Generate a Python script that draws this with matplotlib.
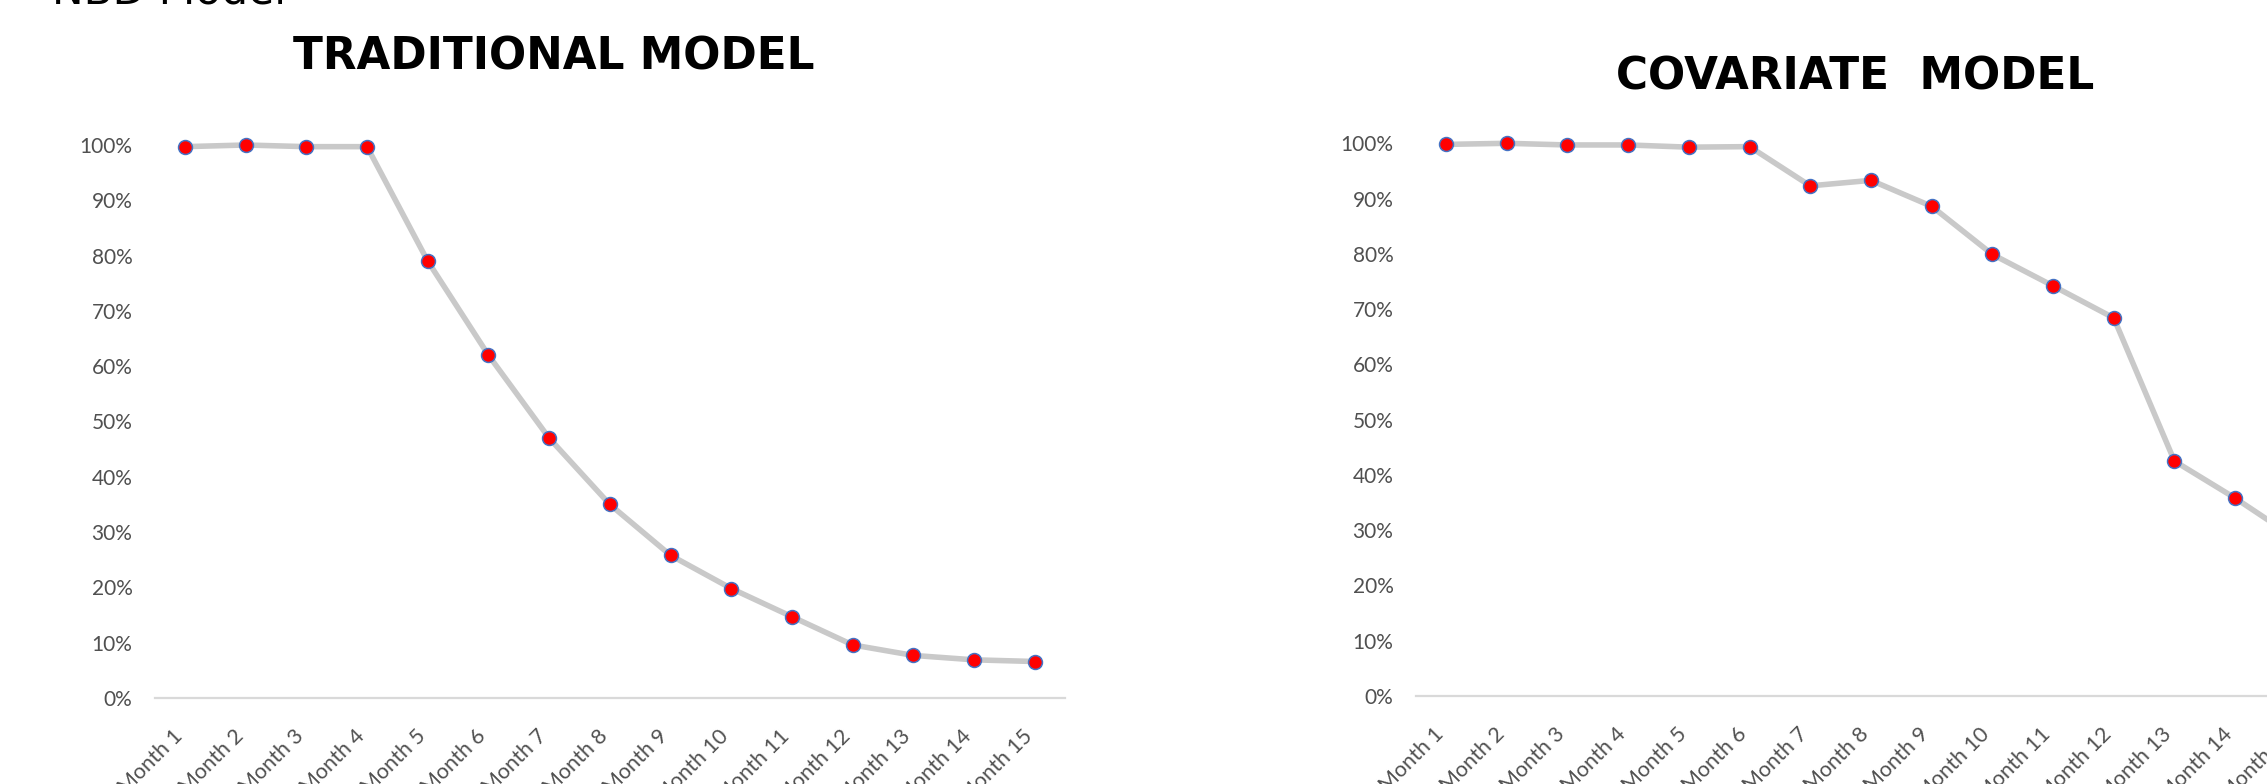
import matplotlib
matplotlib.use("Agg")
import matplotlib.pyplot as plt
from matplotlib.ticker import PercentFormatter
from matplotlib.transforms import ScaledTranslation

# ---- data ----
months = ["Month 1", "Month 2", "Month 3", "Month 4", "Month 5", "Month 6",
          "Month 7", "Month 8", "Month 9", "Month 10", "Month 11", "Month 12",
          "Month 13", "Month 14", "Month 15"]
traditional = [0.997, 1.000, 0.997, 0.997, 0.790, 0.620, 0.470, 0.350,
               0.258, 0.198, 0.147, 0.096, 0.077, 0.069, 0.066]
covariate = [0.998, 1.000, 0.997, 0.997, 0.993, 0.994, 0.923, 0.933,
             0.886, 0.799, 0.742, 0.684, 0.425, 0.358, 0.285]
yticks = [0.0, 0.1, 0.2, 0.3, 0.4, 0.5, 0.6, 0.7, 0.8, 0.9, 1.0]
titles = ["TRADITIONAL MODEL", "COVARIATE  MODEL"]
header = "NBD Model"

W, H = 2267, 784
DPI = 100
fig = plt.figure(figsize=(W / DPI, H / DPI), dpi=DPI, facecolor="white")

tick_font = ["Lato", "DejaVu Sans"]
tick_color = "#505050"
title_kw = dict(family="DejaVu Sans", weight="bold", fontsize=31.5)


def px_axes(x0, y_top, width, y_bottom):
    return [x0 / W, (H - y_bottom) / H, width / W, (y_bottom - y_top) / H]


axes_specs = [
    (px_axes(154.6, 145, 910.5, 698), traditional, titles[0], (554, 70)),
    (px_axes(1415.7, 143.3, 910.5, 696), covariate, titles[1], (1855, 90)),
]

for rect, vals, title, (tx, ty) in axes_specs:
    ax = fig.add_axes(rect)
    x = list(range(len(months)))
    ax.plot(x, vals, color="#c9c9c9", linewidth=4.0, solid_capstyle="round",
            marker="o", markersize=10, markerfacecolor="#ff0000",
            markeredgecolor="#4472c4", markeredgewidth=1.1, zorder=3,
            clip_on=False)
    ax.set_xlim(-0.5, len(months) - 0.5)
    ax.set_ylim(0, 1)
    ax.set_yticks(yticks)
    ax.yaxis.set_major_formatter(PercentFormatter(1.0, decimals=0))
    ax.set_xticks(x)
    ax.set_xticklabels(months, rotation=45, ha="right", va="center",
                       rotation_mode="anchor")
    for s in ["top", "right", "left"]:
        ax.spines[s].set_visible(False)
    ax.spines["bottom"].set_color("#d9d9d9")
    ax.spines["bottom"].set_linewidth(1.6)
    ax.tick_params(axis="y", length=0, pad=16, labelsize=15, labelcolor=tick_color)
    ax.tick_params(axis="x", length=0, pad=25, labelsize=15.5, labelcolor=tick_color)
    offset = ScaledTranslation(-4 / 72, 0, fig.dpi_scale_trans)
    for lab in ax.get_xticklabels():
        lab.set_transform(lab.get_transform() + offset)
    for lab in ax.get_xticklabels() + ax.get_yticklabels():
        lab.set_family(tick_font)
    ax.set_facecolor("none")
    fig.text(tx / W, 1 - ty / H, title, ha="center", va="baseline",
             color="black", **title_kw)

fig.text(52 / W, 1 - 4 / H, header, ha="left", va="baseline",
         family="DejaVu Sans", fontsize=30.5, color="black")

fig.savefig("out.png", dpi=DPI, facecolor="white")
